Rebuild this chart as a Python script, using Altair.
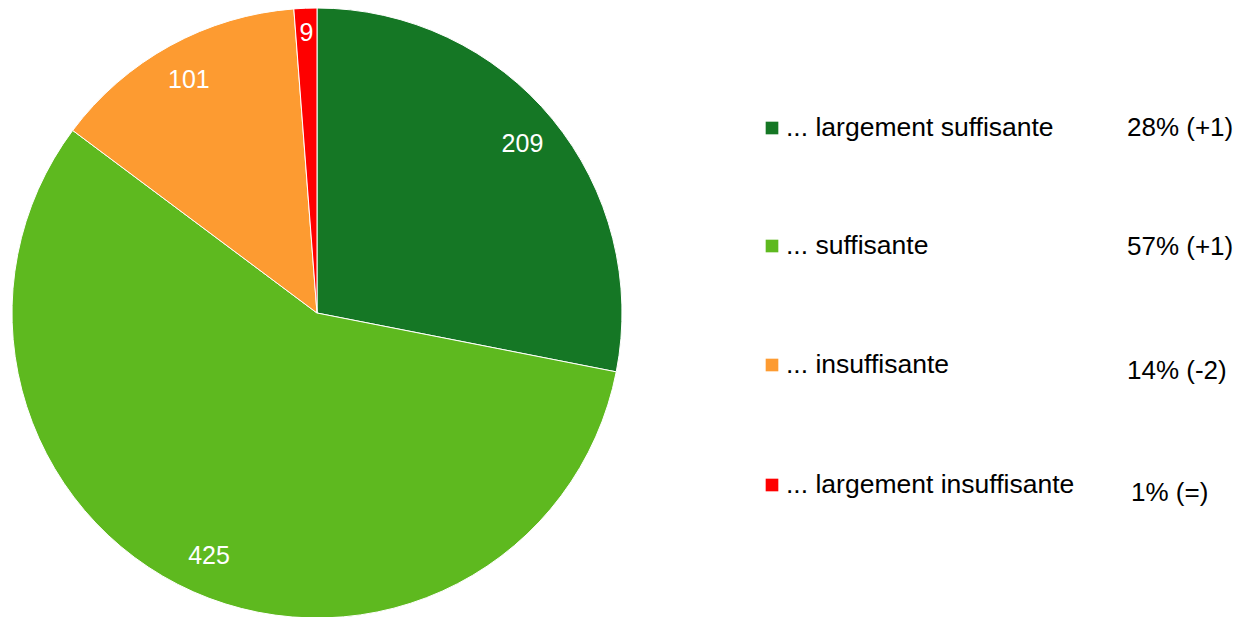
import altair as alt
import pandas as pd

categories = ["... largement suffisante", "... suffisante", "... insuffisante", "... largement insuffisante"]
counts = [209, 425, 101, 9]
pct_labels = ["28% (+1)", "57% (+1)", "14% (-2)", "1% (=)"]
colors = ["#157725", "#5eb91f", "#fd9b31", "#fe0000"]

df = pd.DataFrame({
    "cat": categories,
    "value": counts,
    "pct": pct_labels,
    "order": list(range(len(categories))),
})

FONT = "Liberation Sans"
cx, cy, R = 309, 305, 305
total = sum(counts)

base = alt.Chart(df)

arc = base.mark_arc(outerRadius=R, stroke="white", strokeWidth=1).encode(
    theta=alt.Theta("value:Q", stack=True),
    order=alt.Order("order:Q"),
    color=alt.Color("cat:N", scale=alt.Scale(domain=categories, range=colors), legend=None),
    x=alt.value(cx), y=alt.value(cy),
)

labels = base.transform_window(
    cum="sum(value)", sort=[alt.SortField("order")]
).transform_calculate(
    mid=f"(datum.cum - datum.value / 2) / {total} * 2 * PI",
    lr="datum.value < 50 ? 280 : 266",
).transform_calculate(
    lx=f"{cx} + datum.lr * sin(datum.mid)",
    ly=f"{cy} - datum.lr * cos(datum.mid)",
).mark_text(font=FONT, fontSize=25, color="white", baseline="middle", align="center").encode(
    x=alt.X("lx:Q", scale=None, axis=None),
    y=alt.Y("ly:Q", scale=None, axis=None),
    text=alt.Text("value:Q"),
)

leg_y = [120, 238, 357, 477]
pct_y = [120, 239, 363, 485]
pct_x = [1119, 1119, 1119, 1123]
idx = [0, 1, 2, 3]

squares = base.mark_square(size=160, opacity=1).encode(
    x=alt.value(764),
    y=alt.Y("order:Q", scale=alt.Scale(domain=idx, range=leg_y), axis=None),
    color=alt.Color("cat:N", scale=alt.Scale(domain=categories, range=colors), legend=None),
)

leg_text = base.mark_text(font=FONT, fontSize=26.5, color="#000000", align="left", baseline="middle").encode(
    x=alt.value(778),
    y=alt.Y("order:Q", scale=alt.Scale(domain=idx, range=leg_y), axis=None),
    text="cat:N",
)

pct_text = base.mark_text(font=FONT, fontSize=26, color="#000000", align="left", baseline="middle").encode(
    x=alt.X("order:Q", scale=alt.Scale(domain=idx, range=pct_x), axis=None),
    y=alt.Y("order:Q", scale=alt.Scale(domain=idx, range=pct_y), axis=None),
    text="pct:N",
)

chart = alt.layer(arc, labels, squares, leg_text, pct_text).resolve_scale(
    x="independent", y="independent"
).properties(
    width=1226, height=609, padding=0,
    autosize=alt.AutoSizeParams(type="none"),
).configure_view(stroke=None)

chart.save("out.html", embed_options={"renderer": "svg", "actions": False})
